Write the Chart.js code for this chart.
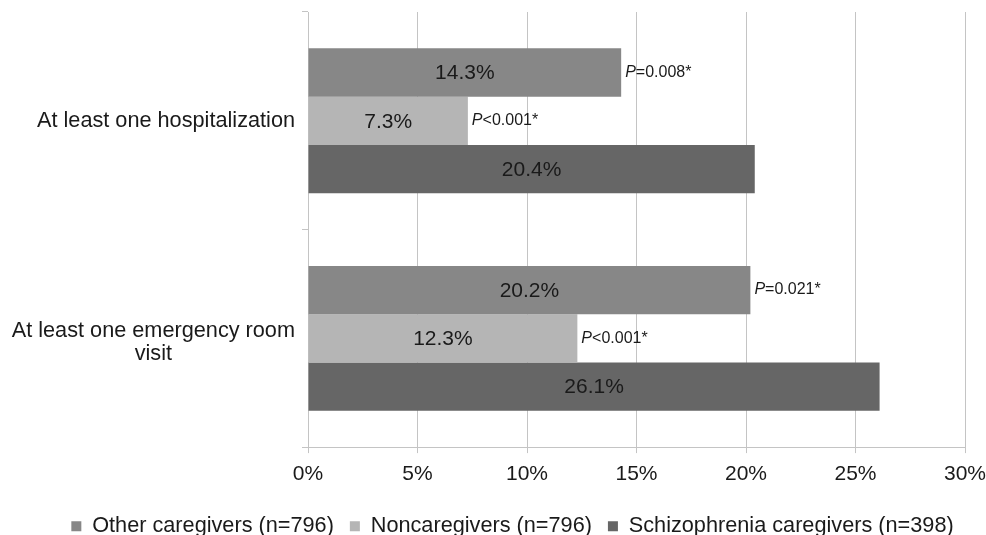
<!DOCTYPE html>
<html>
<head>
<meta charset="utf-8">
<script src="https://cdn.jsdelivr.net/npm/chart.js@4"></script>
<style>
html, body { margin: 0; padding: 0; background: #fff; }
#wrap { width: 986px; height: 535px; position: relative; }
</style>
</head>
<body>
<div id="wrap"><canvas id="chart"></canvas></div>
<script>
// data
const categories = [['At least one hospitalization'], ['At least one emergency room', 'visit']];
const seriesNames = ['Other caregivers (n=796)', 'Noncaregivers (n=796)', 'Schizophrenia caregivers (n=398)'];
const otherCaregivers = [14.3, 20.2];
const noncaregivers = [7.3, 12.3];
const schizophreniaCaregivers = [20.4, 26.1];
const otherPValues = ['=0.008*', '=0.021*'];
const nonPValues = ['<0.001*', '<0.001*'];
const xTicks = [0, 5, 10, 15, 20, 25, 30];

const FONT = '"Liberation Sans", Arial, sans-serif';
const padLeft = 39;
Chart.defaults.font.family = FONT;

// value labels, p-values and the category labels
const labelPlugin = {
    id: 'barLabels',
    afterDatasetsDraw(chart) {
        const ctx = chart.ctx;
        ctx.save();
        ctx.textBaseline = 'middle';
        chart.data.datasets.forEach((ds, i) => {
            const meta = chart.getDatasetMeta(i);
            meta.data.forEach((bar, j) => {
                ctx.font = '21px ' + FONT;
                ctx.fillStyle = '#1a1a1a';
                ctx.textAlign = 'center';
                ctx.fillText(ds.data[j].toFixed(1) + '%', (bar.x + bar.base) / 2, bar.y + 1);
                const p = ds.pValues && ds.pValues[j];
                if (p) {
                    ctx.textAlign = 'left';
                    let x = bar.x + 4;
                    ctx.font = 'italic 16px ' + FONT;
                    ctx.fillText('P', x, bar.y);
                    x += ctx.measureText('P').width;
                    ctx.font = '16px ' + FONT;
                    ctx.fillText(p, x, bar.y);
                }
            });
        });

        const yScale = chart.scales.y;
        ctx.font = '21.7px ' + FONT;
        ctx.fillStyle = '#1a1a1a';
        ctx.textAlign = 'center';
        chart.data.labels.forEach((lines, j) => {
            const cy = yScale.getPixelForValue(j);
            const w = Math.max(...lines.map(l => ctx.measureText(l).width));
            const cx = yScale.right - 13 - w / 2;
            const lh = 23;
            const n = lines.length;
            lines.forEach((l, k) => {
                ctx.fillText(l, cx, cy + (k - (n - 1) / 2) * lh + (n - 1) * 4);
            });
        });
        ctx.restore();
    }
};

const ctx = document.getElementById('chart').getContext('2d');
const chart = new Chart(ctx, {
    type: 'bar',
    data: {
        labels: categories,
        datasets: [
            {
                label: seriesNames[0],
                data: otherCaregivers,
                pValues: otherPValues,
                backgroundColor: '#878787'
            },
            {
                label: seriesNames[1],
                data: noncaregivers,
                pValues: nonPValues,
                backgroundColor: '#b5b5b5'
            },
            {
                label: seriesNames[2],
                data: schizophreniaCaregivers,
                backgroundColor: '#666666'
            }
        ]
    },
    options: {
        indexAxis: 'y',
        responsive: true,
        maintainAspectRatio: false,
        animation: false,
        datasets: {
            bar: { barPercentage: 1, categoryPercentage: 0.666 }
        },
        layout: {
            padding: { left: padLeft, right: 0, top: 12, bottom: -12 }
        },
        plugins: {
            legend: {
                position: 'bottom',
                labels: {
                    boxWidth: 10,
                    boxHeight: 10,
                    padding: 16,
                    color: '#1a1a1a',
                    font: { size: 21.7 }
                }
            },
            tooltip: { enabled: false }
        },
        scales: {
            x: {
                min: 0,
                max: 30,
                afterBuildTicks: s => { s.ticks = xTicks.map(v => ({ value: v })); },
                afterFit: s => { s.paddingRight = 21; s.height += 3; },
                ticks: {
                    callback: v => v + '%',
                    color: '#1a1a1a',
                    padding: 9,
                    font: { size: 21 }
                },
                grid: { color: '#c4c4c4', tickLength: 6 },
                border: { color: '#c4c4c4' }
            },
            y: {
                ticks: { display: false },
                grid: { display: true, drawOnChartArea: false, offset: true, tickLength: 6, color: '#c4c4c4' },
                border: { color: '#c4c4c4' },
                afterFit: s => { s.width = 308 - padLeft; }
            }
        }
    },
    plugins: [labelPlugin]
});
</script>
</body>
</html>
